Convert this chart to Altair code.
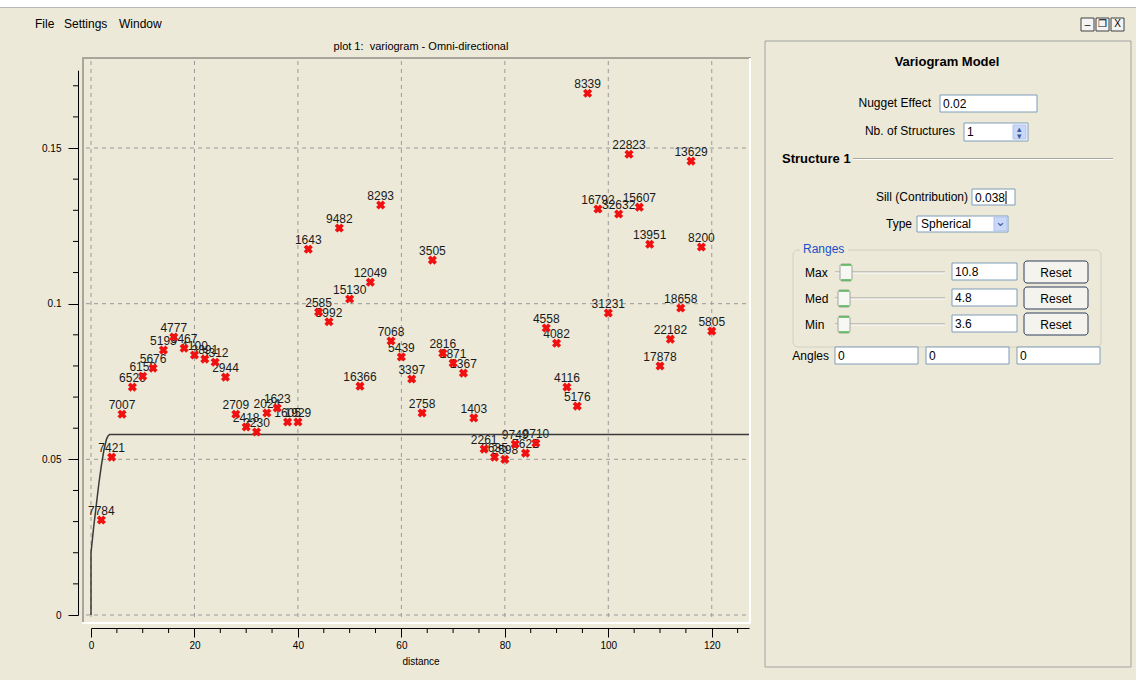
import altair as alt
import pandas as pd

# Experimental variogram (omni-directional): lag distance, semivariance, number of pairs
lag = [2, 4, 6, 8, 10, 12, 14, 16, 18, 20,
       22, 24, 26, 28, 30, 32, 34, 36, 38, 40,
       42, 44, 46, 48, 50, 52, 54, 56, 58, 60,
       62, 64, 66, 68, 70, 72, 74, 76, 78, 80,
       82, 84, 86, 88, 90, 92, 94, 96, 98, 100,
       102, 104, 106, 108, 110, 112, 114, 116, 118, 120]
gamma = [0.0305, 0.0507, 0.0645, 0.0732, 0.0767, 0.0793, 0.0851, 0.0893, 0.0857, 0.0835,
         0.0822, 0.0812, 0.0764, 0.0645, 0.0604, 0.0588, 0.0649, 0.0665, 0.0620, 0.0620,
         0.1175, 0.0973, 0.0942, 0.1243, 0.1015, 0.0735, 0.1069, 0.1317, 0.0880, 0.0829,
         0.0758, 0.0649, 0.1140, 0.0841, 0.0809, 0.0777, 0.0633, 0.0533, 0.0507, 0.0500,
         0.0549, 0.0520, 0.0552, 0.0922, 0.0873, 0.0732, 0.0671, 0.1676, 0.1304, 0.0970,
         0.1288, 0.1480, 0.1310, 0.1191, 0.0800, 0.0886, 0.0986, 0.1458, 0.1182, 0.0912]
pairs = ["7784", "7421", "7007", "6526", "6153", "5676", "5193", "4777", "3467", "4100",
         "3891", "3312", "2944", "2709", "2418", "2230", "2024", "1623", "1605", "1929",
         "1643", "2585", "3992", "9482", "15130", "16366", "12049", "8293", "7068", "5439",
         "3397", "2758", "3505", "2816", "1871", "1367", "1403", "2261", "3635", "2598",
         "9749", "7622", "9710", "4558", "4082", "4116", "5176", "8339", "16792", "31231",
         "32632", "22823", "15607", "13951", "17878", "22182", "18658", "13629", "8200", "5805"]

# Spherical model curve (nugget 0.02, contribution 0.038, range 3.6)
model_lag = [0, 0, 0.5, 1, 1.5, 2, 2.5, 3, 3.3, 3.6, 127.2]
model_gamma = [0, 0.02, 0.028, 0.035, 0.042, 0.048, 0.053, 0.0565, 0.0575, 0.058, 0.058]

# Axis ticks
x_major = [0, 20, 40, 60, 80, 100, 120]
x_minor = [5, 10, 15, 25, 30, 35, 45, 50, 55, 65, 70, 75, 85, 90, 95, 105, 110, 115, 125]
y_major = [0, 0.05, 0.1, 0.15]
y_minor = [0.01, 0.02, 0.03, 0.04, 0.06, 0.07, 0.08, 0.09, 0.11, 0.12, 0.13, 0.14, 0.16, 0.17]

UI = "Liberation Sans"
BG = "#ECE9D8"

pts = pd.DataFrame({"lag": lag, "gamma": gamma, "pairs": pairs})
model = pd.DataFrame({"lag": model_lag, "gamma": model_gamma, "i": list(range(len(model_lag)))})
ONE = pd.DataFrame({"k": [0]})

XS = alt.Scale(domain=[0, 127.2], range=[91, 749], nice=False, zero=False)
YS = alt.Scale(domain=[0, 0.175], range=[615, 70.2], nice=False, zero=False)
XA = alt.Axis(values=x_major, tickSize=9, offset=-52, title=None, grid=False, format="d",
              labelFont=UI, labelFontSize=10, labelColor="black", labelPadding=3,
              domainColor="black", tickColor="black", labelFlush=False, labelOverlap=False)
YA = alt.Axis(values=y_major, tickSize=10, offset=-78, title=None, grid=False, format="~g",
              labelFont=UI, labelFontSize=10, labelColor="black", labelPadding=7,
              domainColor="black", tickColor="black", labelOverlap=False)


def X(field="lag"):
    return alt.X(f"{field}:Q", scale=XS, axis=XA)


def Y(field="gamma"):
    return alt.Y(f"{field}:Q", scale=YS, axis=YA)


def box(x, y, x2, y2, fill="white", stroke=None, sw=1, r=0, fo=1):
    kw = dict(fill=fill, strokeWidth=sw, cornerRadius=r, fillOpacity=fo)
    if stroke:
        kw["stroke"] = stroke
    return alt.Chart(ONE).mark_rect(**kw).encode(
        x=alt.value(x), x2=alt.value(x2), y=alt.value(y), y2=alt.value(y2))


def txt(s, x, y, size=12, align="left", bold=False, color="black", font=UI):
    return alt.Chart(ONE).mark_text(
        text=s, align=align, baseline="middle", fontSize=size,
        fontWeight="bold" if bold else "normal", color=color, font=font
    ).encode(x=alt.value(x), y=alt.value(y))


def hline(x, x2, y, color, sw=1):
    return alt.Chart(ONE).mark_rule(color=color, strokeWidth=sw).encode(
        x=alt.value(x), x2=alt.value(x2), y=alt.value(y))


def vline(x, y, y2, color, sw=1):
    return alt.Chart(ONE).mark_rule(color=color, strokeWidth=sw).encode(
        x=alt.value(x), y=alt.value(y), y2=alt.value(y2))


layers = []

# window chrome
layers += [
    box(0, 0, 1136, 7, fill="white"),
    hline(0, 1136, 7.5, "#b8b8b8"),
    txt("File", 35, 24), txt("Settings", 64, 24), txt("Window", 119, 24),
]
for bx, glyph in [(1081, "_"), (1096, "❐"), (1111, "X")]:
    layers += [box(bx, 18, bx + 13, 31, fill="#f4f4f4", stroke="#404040"),
               txt(glyph, bx + 6.5, 24 if glyph != "_" else 21, size=10, align="center")]

# plot title and canvas frame
layers += [
    txt("plot 1:\u00a0 variogram - Omni-directional", 421, 47, size=11, align="center"),
    hline(82, 751, 58, "#a8a69a", sw=2),
    vline(83, 58, 623, "#a8a69a", sw=2),
    hline(82, 751, 623, "#ffffff", sw=2),
    vline(750, 58, 623, "#ffffff", sw=2),
    txt("distance", 421, 662, size=10, align="center"),
]

# dashed grid
gx = pd.DataFrame({"lag": x_major})
gy = pd.DataFrame({"gamma": y_major})
layers += [
    alt.Chart(gx).mark_rule(color="#9a9a9a", strokeDash=[4, 4], strokeWidth=1).encode(
        x=X(), y=alt.value(61), y2=alt.value(620)),
    alt.Chart(gy).mark_rule(color="#9a9a9a", strokeDash=[4, 4], strokeWidth=1).encode(
        y=Y(), x=alt.value(86), x2=alt.value(748)),
]

# minor ticks
layers += [
    alt.Chart(pd.DataFrame({"lag": x_minor})).mark_rule(color="black").encode(
        x=X(), y=alt.value(628), y2=alt.value(633)),
    alt.Chart(pd.DataFrame({"gamma": y_minor})).mark_rule(color="black").encode(
        y=Y(), x=alt.value(73), x2=alt.value(78)),
]

# pair-count labels, model curve, experimental points
layers += [
    alt.Chart(pts).mark_text(align="center", baseline="alphabetic", dy=-5, fontSize=12,
                             font=UI, color="#1a1a1a").encode(x=X(), y=Y(), text="pairs:N"),
    alt.Chart(model).mark_line(color="#3a3a3a", strokeWidth=1.5).encode(
        x=X(), y=Y(), order="i:Q"),
    alt.Chart(pts).mark_point(shape="cross", angle=45, filled=True, size=85,
                              color="#f01010", opacity=1).encode(x=X(), y=Y()),
]

# variogram model panel
FIELD = "#7f9db9"
layers += [
    box(765, 41, 1131, 667, fill=BG, stroke="#a3a3a3", fo=0),
    txt("Variogram Model", 947, 62, size=13, align="center", bold=True),
    txt("Nugget Effect", 931, 103, align="right"),
    box(940, 95, 1037, 112, stroke=FIELD), txt("0.02", 943, 104),
    txt("Nb. of Structures", 955, 131, align="right"),
    box(964, 123, 1028, 141, stroke=FIELD), txt("1", 967, 132),
    box(1013, 125, 1026, 139, fill="#c9d8f8", stroke="#b0c4ee"),
    txt("▴", 1019.5, 129, size=9, align="center", color="#3d5a98"),
    txt("▾", 1019.5, 136, size=9, align="center", color="#3d5a98"),
    txt("Structure 1", 782, 159, size=13, bold=True),
    hline(853, 1113, 158.5, "#a8a69a"), hline(853, 1113, 159.5, "#ffffff"),
    txt("Sill (Contribution)", 968, 197, align="right"),
    box(972, 189, 1015, 205, stroke=FIELD), txt("0.038", 975, 198),
    vline(1006, 191, 204, "black"),
    txt("Type", 912, 224, align="right"),
    box(917, 216, 1008, 232, stroke=FIELD), txt("Spherical", 921, 224),
    box(994, 217, 1007, 231, fill="#c9d8f8", stroke="#b0c4ee"),
    txt("⌄", 1000.5, 222, size=13, align="center", color="#3d5a98"),
    box(793, 250, 1101, 347, fill=BG, stroke="#d2d0c0", r=5, fo=0),
    box(800, 243, 848, 256, fill=BG),
    txt("Ranges", 803, 249, color="#1750c8"),
]
for ry, name, val, tx in [(272, "Max", "10.8", 840), (298, "Med", "4.8", 838), (324, "Min", "3.6", 838)]:
    layers += [
        txt(name, 805, ry + 1),
        hline(835, 945, ry, "#9c9c9c"), hline(835, 945, ry + 1, "#ffffff"),
        box(tx, ry - 8, tx + 12, ry + 9, fill="#f7f7f3", stroke="#9aa89a", r=2),
        hline(tx + 1, tx + 11, ry - 7, "#4cb04c", sw=1.5),
        hline(tx + 1, tx + 11, ry + 8, "#4cb04c", sw=1.5),
        box(952, ry - 9, 1017, ry + 8, stroke=FIELD), txt(val, 955, ry),
        box(1024, ry - 11, 1088, ry + 11, fill="#f4f3ee", stroke="#2f3f5c", r=3),
        txt("Reset", 1056, ry + 1, align="center"),
    ]
layers += [txt("Angles", 829, 356, align="right")]
for ax in [835, 926, 1017]:
    layers += [box(ax, 347, ax + 83, 364, stroke=FIELD), txt("0", ax + 3, 356)]

chart = alt.layer(*layers).properties(
    width=1136, height=680,
    autosize=alt.AutoSizeParams(type="none"),
    padding=0,
    background=BG,
).configure_view(stroke=None)

chart.save("out.html", embed_options={"renderer": "svg", "actions": False})
